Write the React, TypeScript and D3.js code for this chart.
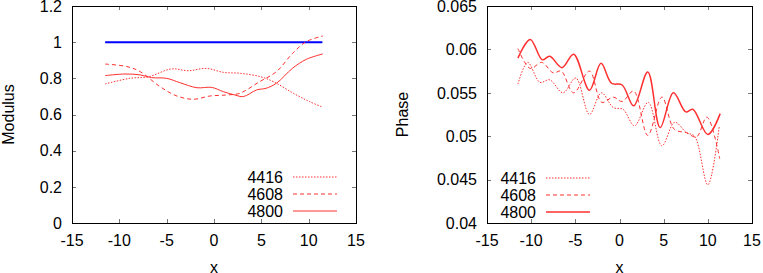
import React from "react";
import * as d3 from "d3";

// ---------- Data ----------
const legendLabels = ["4416", "4608", "4800"];

// Modulus panel
const modRefX = [-11.5, 11.45];
const modRefY = [1, 1];

const mod4416X = [-11.5, -8.9, -6.9, -4.5, -2.7, -0.8, 1.0, 2.75, 4.9, 6.3, 8.4, 10.1, 11.5];
const mod4416Y = [0.769, 0.8, 0.809, 0.852, 0.842, 0.855, 0.833, 0.828, 0.809, 0.781, 0.717, 0.671, 0.64];

const mod4608X = [-11.5, -9.2, -7.8, -5.7, -4.0, -2.2, -0.45, 1.3, 2.7, 4.8, 6.6, 8.3, 9.75, 11.5];
const mod4608Y = [0.879, 0.865, 0.837, 0.754, 0.704, 0.684, 0.702, 0.708, 0.717, 0.781, 0.837, 0.938, 1.003, 1.034];

const mod4800X = [-11.5, -9.4, -7.8, -6.6, -5.0, -3.6, -1.8, -0.25, 1.0, 2.2, 3.1, 4.5, 5.5, 6.6, 8.3, 9.75, 11.5];
const mod4800Y = [0.815, 0.824, 0.819, 0.804, 0.8, 0.776, 0.748, 0.75, 0.726, 0.708, 0.699, 0.736, 0.745, 0.773, 0.856, 0.905, 0.935];

const modYTicks = [0, 0.2, 0.4, 0.6, 0.8, 1, 1.2];
const modYTickLabels = ["0", "0.2", "0.4", "0.6", "0.8", "1", "1.2"];

// Phase panel
const ph4416X = [-11.5, -10.4, -9.0, -7.9, -6.4, -4.95, -3.4, -2.05, -0.7, 0.4, 1.7, 3.25, 4.8, 6.25, 7.6, 8.5, 10.0, 11.3];
const ph4416Y = [0.056, 0.0585, 0.0562, 0.0565, 0.055, 0.0567, 0.0525, 0.055, 0.0533, 0.0531, 0.0512, 0.0539, 0.0489, 0.0516, 0.0504, 0.05, 0.0444, 0.0512];

const ph4608X = [-11.5, -10.1, -8.8, -7.5, -6.6, -5.2, -3.4, -2.0, -0.7, 0.3, 1.6, 3.2, 4.8, 6.2, 7.6, 8.7, 9.9, 11.35];
const ph4608Y = [0.0601, 0.0578, 0.0585, 0.0573, 0.0575, 0.055, 0.0575, 0.0539, 0.0545, 0.054, 0.0552, 0.0501, 0.0545, 0.0508, 0.0504, 0.0499, 0.0522, 0.0474];

const ph4800X = [-11.5, -10.1, -8.75, -7.9, -6.5, -5.2, -3.4, -2.1, -0.9, 0.3, 1.6, 3.2, 4.6, 6.1, 7.5, 8.3, 10.0, 11.4];
const ph4800Y = [0.059, 0.06115, 0.0588, 0.0592, 0.0579, 0.05945, 0.0553, 0.0584, 0.0561, 0.0559, 0.0535, 0.0574, 0.051, 0.055, 0.0528, 0.0531, 0.0502, 0.0526];

const phYTicks = [0.04, 0.045, 0.05, 0.055, 0.06, 0.065];
const phYTickLabels = ["0.04", "0.045", "0.05", "0.055", "0.06", "0.065"];

const xTicks = [-15, -10, -5, 0, 5, 10, 15];
const xTickLabels = ["-15", "-10", "-5", "0", "5", "10", "15"];

// ---------- Styles ----------
const FONT = "'Liberation Sans', Arial, Helvetica, sans-serif";
const RED = "#ff3030";
const dashes = ["1.5,1.5", "4,3", null];

type Series = { xs: number[]; ys: number[] };

function Panel(props: {
  left: number; right: number; top: number; bottom: number;
  yDomain: [number, number]; yTicks: number[]; yTickLabels: string[];
  yLabel: string; yLabelX: number;
  series: Series[]; ref1?: Series; legendTextX: number; legendY: number[];
  solidWidth: number;
}) {
  const { left, right, top, bottom } = props;
  const x = d3.scaleLinear().domain([-15, 15]).range([left, right]);
  const y = d3.scaleLinear().domain(props.yDomain).range([bottom, top]);
  const tl = 4;
  const line = (s: Series) =>
    d3.line<number>().x((_, i) => x(s.xs[i])).y((_, i) => y(s.ys[i])).curve(d3.curveCatmullRom.alpha(0.5))(s.ys) || "";
  return (
    <g>
      {/* ticks */}
      {xTicks.map((t, i) => (
        <g key={"xt" + i}>
          <line x1={Math.round(x(t)) + 0.5} x2={Math.round(x(t)) + 0.5} y1={bottom} y2={bottom - tl} stroke="#777" />
          <line x1={Math.round(x(t)) + 0.5} x2={Math.round(x(t)) + 0.5} y1={top} y2={top + tl} stroke="#777" />
          <text x={x(t)} y={bottom + 23} textAnchor="middle" fontSize={16} fontFamily={FONT}>{xTickLabels[i]}</text>
        </g>
      ))}
      {props.yTicks.map((t, i) => (
        <g key={"yt" + i}>
          <line x1={left} x2={left + tl} y1={Math.round(y(t)) + 0.5} y2={Math.round(y(t)) + 0.5} stroke="#777" />
          <line x1={right} x2={right - tl} y1={Math.round(y(t)) + 0.5} y2={Math.round(y(t)) + 0.5} stroke="#777" />
          <text x={left - 10} y={y(t) + 5.7} textAnchor="end" fontSize={16} fontFamily={FONT}>{props.yTickLabels[i]}</text>
        </g>
      ))}
      {/* reference line */}
      {props.ref1 && (
        <path d={line(props.ref1)} fill="none" stroke="#0000ff" strokeWidth={2} />
      )}
      {/* series */}
      {props.series.map((s, i) => (
        <path key={"s" + i} d={line(s)} fill="none" stroke={RED}
          strokeWidth={i === 2 ? props.solidWidth : 1}
          strokeDasharray={dashes[i] || undefined} />
      ))}
      {/* legend */}
      {legendLabels.map((lab, i) => (
        <g key={"lg" + i}>
          <text x={props.legendTextX} y={props.legendY[i] + 5.7} textAnchor="end" fontSize={16} fontFamily={FONT}>{lab}</text>
          <line x1={props.legendTextX + 10} x2={props.legendTextX + 54} y1={props.legendY[i]} y2={props.legendY[i]}
            stroke={RED} strokeWidth={i === 2 ? props.solidWidth : 1} strokeDasharray={dashes[i] || undefined} />
        </g>
      ))}
      {/* frame */}
      <rect x={left + 0.5} y={top + 0.5} width={right - left} height={bottom - top} fill="none" stroke="#000" strokeWidth={1} />
      {/* axis labels */}
      <text x={(left + right) / 2} y={272.5} textAnchor="middle" fontSize={16} fontFamily={FONT}>x</text>
      <text transform={`translate(${props.yLabelX},${(top + bottom) / 2}) rotate(-90)`} textAnchor="middle" fontSize={16} fontFamily={FONT}>{props.yLabel}</text>
    </g>
  );
}

export default function App() {
  return (
    <svg width={763} height={273} style={{ position: "absolute", left: 0, top: 0, background: "#fff" }}>
      <rect width={763} height={273} fill="#fff" />
      <Panel left={72} right={356} top={6} bottom={223}
        yDomain={[0, 1.2]} yTicks={modYTicks} yTickLabels={modYTickLabels}
        yLabel="Modulus" yLabelX={13.5}
        ref1={{ xs: modRefX, ys: modRefY }}
        series={[{ xs: mod4416X, ys: mod4416Y }, { xs: mod4608X, ys: mod4608Y }, { xs: mod4800X, ys: mod4800Y }]}
        legendTextX={283} legendY={[177, 194, 211]} solidWidth={1} />
      <Panel left={487} right={752} top={6} bottom={223}
        yDomain={[0.04, 0.065]} yTicks={phYTicks} yTickLabels={phYTickLabels}
        yLabel="Phase" yLabelX={408}
        series={[{ xs: ph4416X, ys: ph4416Y }, { xs: ph4608X, ys: ph4608Y }, { xs: ph4800X, ys: ph4800Y }]}
        legendTextX={536} legendY={[178, 195, 212]} solidWidth={1.5} />
    </svg>
  );
}
